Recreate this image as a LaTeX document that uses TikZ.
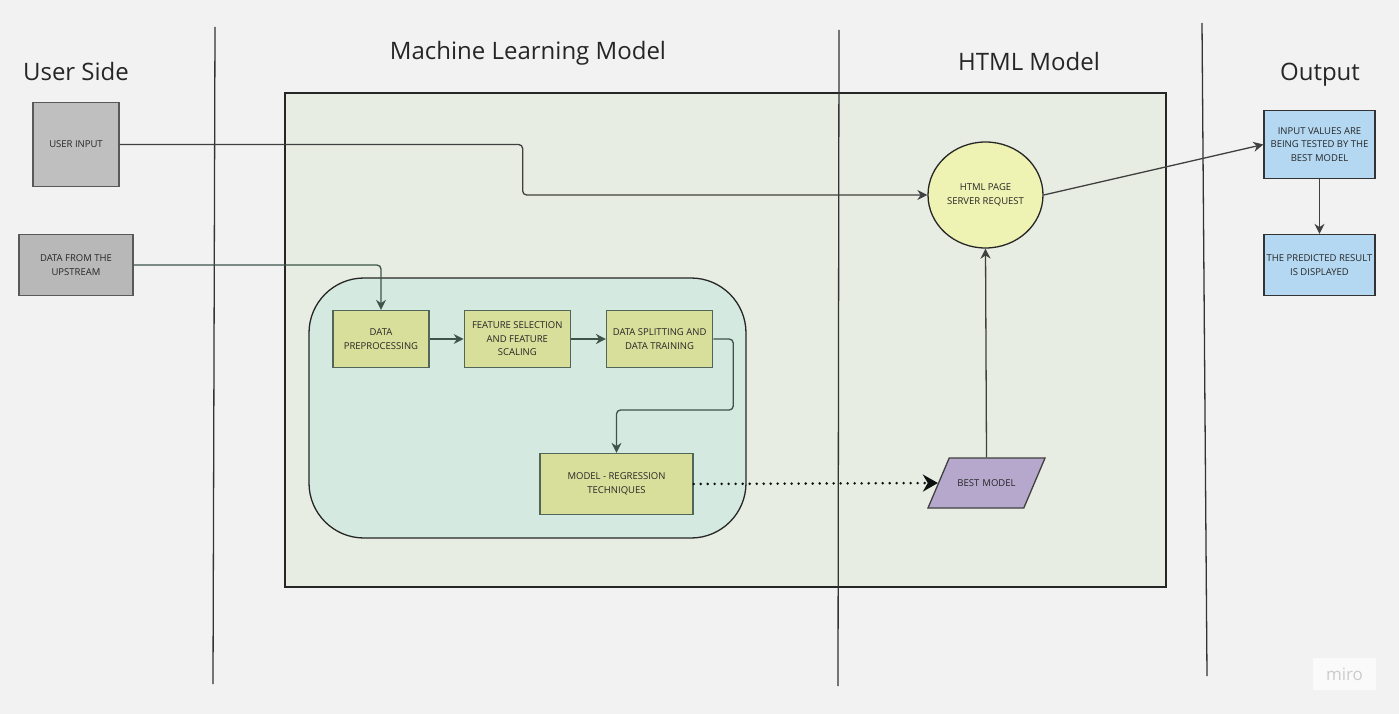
\documentclass[tikz,border=0pt]{standalone}
\usepackage{fontspec}
\setmainfont{Open Sans}
\usepackage{xcolor}
\usepackage{tikz}
\usetikzlibrary{arrows.meta, positioning, shapes.geometric}
\definecolor{canvascolor}{HTML}{F2F2F2}
\definecolor{mlcolor}{HTML}{E7EDE3}
\definecolor{pipecolor}{HTML}{D4EAE0}
\definecolor{stepcolor}{HTML}{D8DF9A}
\definecolor{linkcolor}{HTML}{3E5449}
\definecolor{htmlcolor}{HTML}{EEF2B2}
\definecolor{bestcolor}{HTML}{B6A8CC}
\definecolor{outcolor}{HTML}{B4D8F2}

\begin{document}
\begin{tikzpicture}[x=1pt, y=-1pt,
		boxtext/.style={font=\fontsize{9.5}{13.5}\selectfont, align=center, inner sep=0pt, text=black!85},
		userbox/.style={boxtext, draw=black!65, line width=1.3pt, minimum width=#1},
		stepbox/.style={boxtext, draw=linkcolor!90, fill=stepcolor, line width=1.3pt, minimum height=57pt},
		outbox/.style={boxtext, draw=black!80, fill=outcolor, line width=1.3pt, minimum width=111pt},
		lane/.style={font=\fontsize{24}{28}\selectfont, text=black!85, anchor=base},
		link/.style={draw=black!75, line width=1.3pt, rounded corners=4pt, -{Stealth[length=10pt, width=10pt]}},
		greenlink/.style={link, draw=linkcolor}]
			% canvas and lanes
			\fill[canvascolor] (0,0) rectangle (1399,714);
			\useasboundingbox (0,0) rectangle (1399,714);
			\draw[black!85, line width=1.3pt, fill=mlcolor] (285,93) rectangle (1166,587);
			\draw[black!80, line width=1.3pt] (215,27) -- (213,684);
			\draw[black!80, line width=1.3pt] (839,30) -- (838,686);
			\draw[black!80, line width=1.3pt] (1202,23) -- (1207,676);
			\node[lane] (userside) at (76,81) {User Side};
			\node[lane] (mltitle) at (528,60) {Machine Learning Model};
			\node[lane] (htmltitle) at (1029,71) {HTML Model};
			\node[lane] (outtitle) at (1320,81) {Output};
			\draw[black!85, line width=1.3pt, fill=pipecolor, rounded corners=55pt] (309,278) rectangle (746,538);

			% user side
			\node[userbox=86pt, fill=black!25, minimum height=84pt] (ui) at (76,144.5) {USER INPUT};
			\node[userbox=114pt, fill=black!28, minimum height=61pt] (up) at (76,265) {DATA FROM THE\\UPSTREAM};

			% pipeline
			\node[stepbox, minimum width=96pt] (dp) at (381,339) {DATA\\PREPROCESSING};
			\node[stepbox, minimum width=106pt, right=34pt of dp] (fs) {FEATURE SELECTION\\AND FEATURE\\SCALING};
			\node[stepbox, minimum width=106pt, right=35pt of fs] (ds) {DATA SPLITTING AND\\DATA TRAINING};
			\node[stepbox, minimum width=153pt, minimum height=61pt] (mr) at (616.5,484) {MODEL - REGRESSION\\TECHNIQUES};

			% html model
			\node[boxtext, ellipse, draw=black!85, fill=htmlcolor, line width=1.3pt, minimum width=115pt, minimum height=106pt] (html) at (985.5,195) {HTML PAGE\\SERVER REQUEST};
			\node[boxtext, trapezium, trapezium left angle=67, trapezium right angle=113, draw=black!75, fill=bestcolor, line width=1.3pt,
				text width=64pt, text height=7pt, text depth=0pt, inner xsep=5.3pt, inner ysep=21.5pt] (best) at (986.5,483) {BEST MODEL};

			% output
			\node[outbox, minimum height=68pt] (iv) at (1319.5,144.5) {INPUT VALUES ARE\\BEING TESTED BY THE\\BEST MODEL};
			\node[outbox, minimum height=61pt] (pr) at (1319.5,265) {THE PREDICTED RESULT\\IS DISPLAYED};

			% connectors
			\draw[link] (ui.east) -- ++(403,0) |- (html.west);
			\draw[greenlink] (up.east) -| (dp.north);
			\draw[greenlink] (dp) -- (fs);
			\draw[greenlink] (fs) -- (ds);
			\draw[greenlink] (ds.east) -- ++(20,0) -- ++(0,71) -| (mr.north);
			\draw[draw=black!80!linkcolor, line width=2.8pt, line cap=round, dash pattern=on 0pt off 7pt,
				-{Stealth[length=15pt, width=17pt, line cap=butt]}] (mr.east) -- (best.west);
			\draw[link] (best.north) -- (html.south);
			\draw[link] (html.east) -- (iv.west);
			\draw[link] (iv) -- (pr);

			% watermark
			\node[fill=white!60!canvascolor, text=black!20, font=\fontsize{17}{20}\selectfont, minimum width=63pt, minimum height=32pt] (miro) at (1344.5,674) {miro};
		\end{tikzpicture}
\end{document}
